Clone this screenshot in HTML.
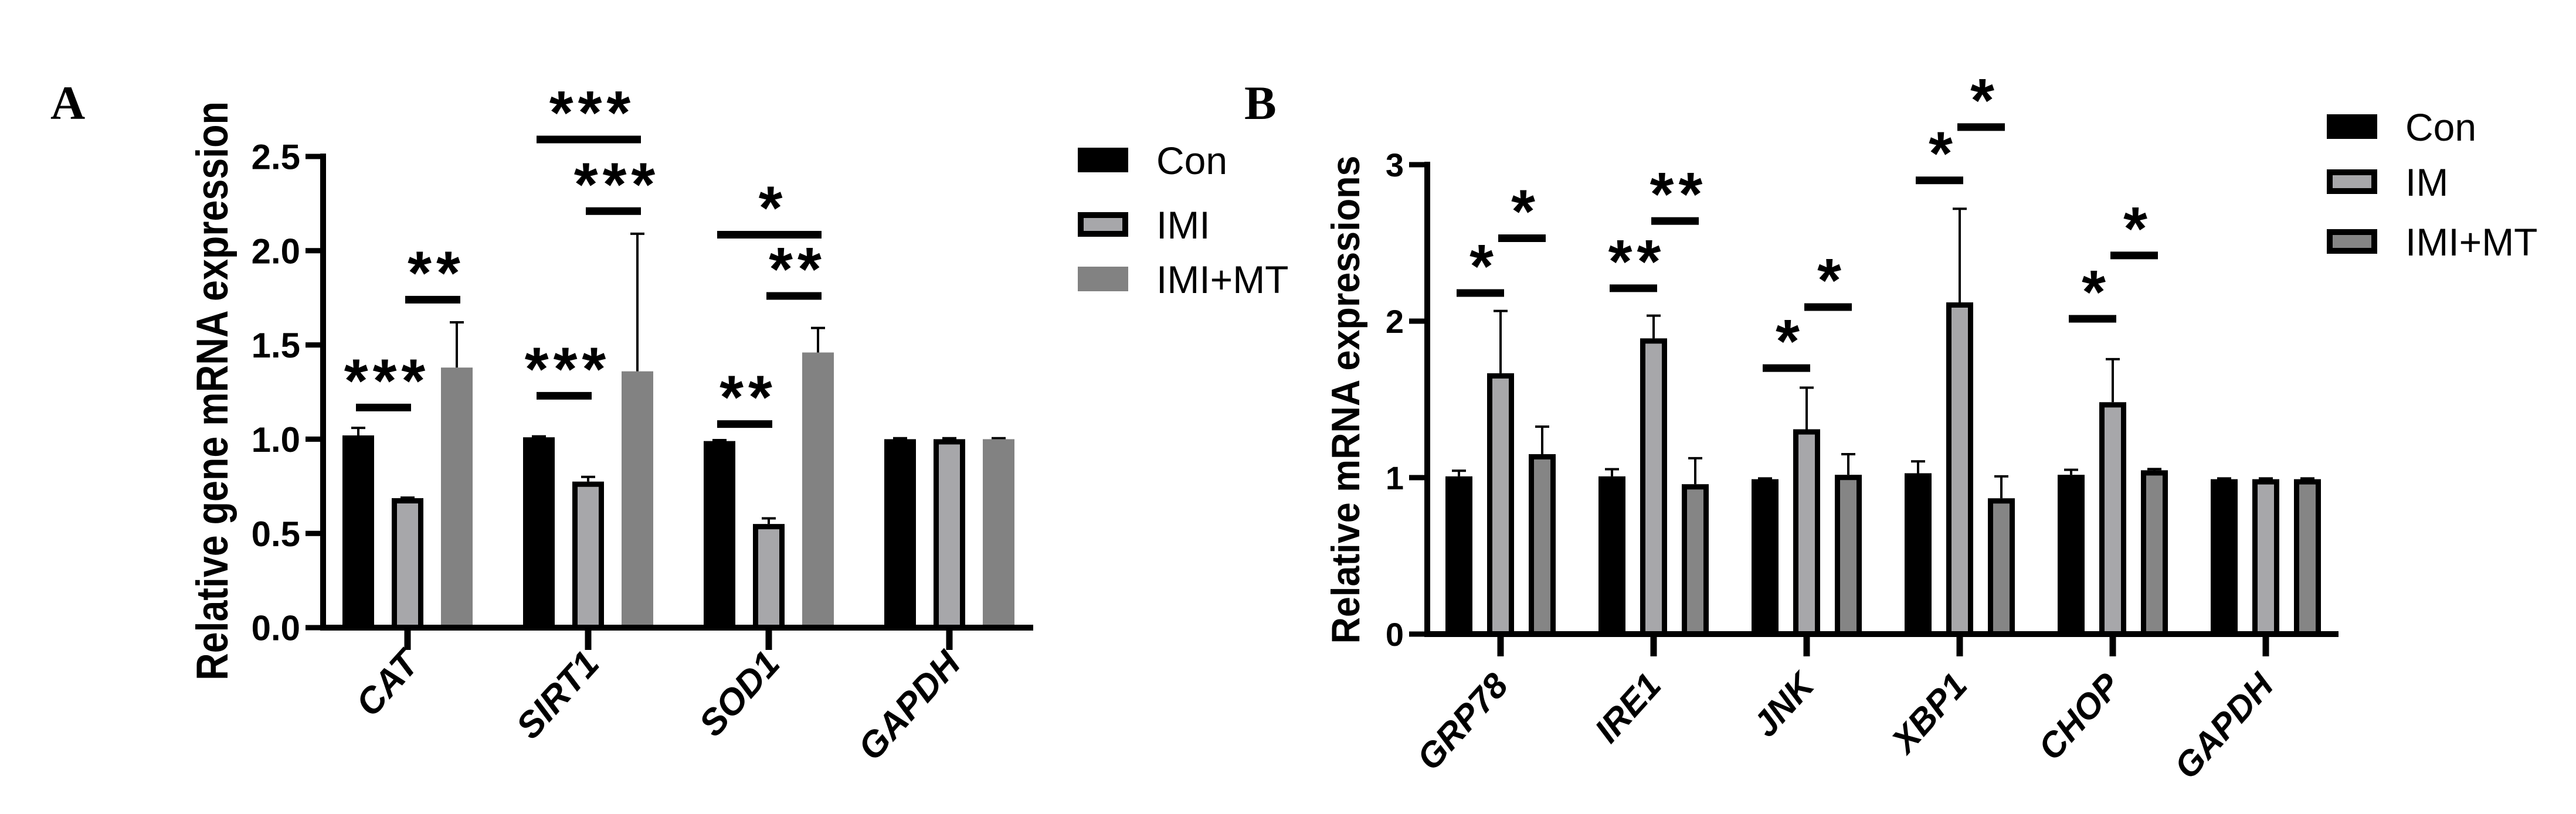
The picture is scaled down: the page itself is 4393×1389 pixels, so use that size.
<!DOCTYPE html>
<html><head><meta charset="utf-8"><style>
html,body{margin:0;padding:0;background:#fff;}
svg{display:block;font-family:"Liberation Sans",Arial,sans-serif;}
</style></head><body>
<svg id="fig" width="4393" height="1389" viewBox="0 0 4393 1389" xmlns="http://www.w3.org/2000/svg">
<rect x="0" y="0" width="4393" height="1389" fill="#fff"/>
<g id="pa"></g>
<g id="pb"></g>
</svg>
<script>
// ---------- Panel A data ----------
const catsA = ["CAT","SIRT1","SOD1","GAPDH"];
const seriesNamesA = ["Con","IMI","IMI+MT"];
const conA = [1.02, 1.01, 0.99, 1.0];
const imiA = [0.687, 0.775, 0.55, 1.0];
const mtA = [1.38, 1.36, 1.46, 1.0];
const conErrA = [1.06, 1.015, 0.995, 1.005];
const imiErrA = [0.69, 0.80, 0.58, 1.005];
const mtErrA = [1.62, 2.09, 1.59, 1.005];
const ticksA = [0, 0.5, 1.0, 1.5, 2.0, 2.5];
const tickLabelsA = ["0.0","0.5","1.0","1.5","2.0","2.5"];
// significance: [group, fromSeries, toSeries, yValue, label]
const sigA = [
 [0,0,1,1.168,"***"],[0,1,2,1.74,"**"],
 [1,0,1,1.23,"***"],[1,1,2,2.21,"***"],[1,0,2,2.59,"***"],
 [2,0,1,1.08,"**"],[2,1,2,1.76,"**"],[2,0,2,2.085,"*"]
];
// ---------- Panel B data ----------
const catsB = ["GRP78","IRE1","JNK","XBP1","CHOP","GAPDH"];
const seriesNamesB = ["Con","IM","IMI+MT"];
const conB = [1.008, 1.008, 0.99, 1.028, 1.018, 0.99];
const imB = [1.667, 1.89, 1.309, 2.12, 1.482, 0.99];
const mtB = [1.15, 0.958, 1.018, 0.868, 1.047, 0.99];
const conErrB = [1.044, 1.054, 0.995, 1.104, 1.05, 0.995];
const imErrB = [2.065, 2.035, 1.575, 2.718, 1.757, 0.995];
const mtErrB = [1.326, 1.124, 1.15, 1.008, 1.055, 0.995];
const ticksB = [0, 1, 2, 3];
const tickLabelsB = ["0","1","2","3"];
const sigB = [
 [0,0,1,2.18,"*"],[0,1,2,2.53,"*"],
 [1,0,1,2.21,"**"],[1,1,2,2.64,"**"],
 [2,0,1,1.70,"*"],[2,1,2,2.09,"*"],
 [3,0,1,2.90,"*"],[3,1,2,3.24,"*"],
 [4,0,1,2.015,"*"],[4,1,2,2.42,"*"]
];

const NS="http://www.w3.org/2000/svg";
function mk(parent, tag, attrs, text){
  const e=document.createElementNS(NS,tag);
  for(const k in attrs) e.setAttribute(k, attrs[k]);
  if(text!==undefined) e.textContent=text;
  parent.appendChild(e); return e;
}

function drawPanel(g, cfg){
  const y = v => cfg.y0 - (v - cfg.vmin)/(cfg.vmax-cfg.vmin)*(cfg.y0-cfg.yTop);
  const gx = i => cfg.g0 + i*cfg.gStep;
  const bx = (i,s) => gx(i) + (s-1)*cfg.bStep;
  const pl = mk(g,'text',{x:cfg.labelX,y:203,'font-family':'"Liberation Serif",serif','font-weight':'bold','font-size':82},cfg.label);
  
  
  const yt = mk(g,'text',{x:0,y:0,transform:`translate(${cfg.titleX},${cfg.titleY}) rotate(-90)`,'text-anchor':'middle','font-weight':'bold','font-size':cfg.titleFont,textLength:cfg.titleLen,lengthAdjust:'spacingAndGlyphs'},cfg.title);
  
  
  const fills=['#000','#a7a7aa',cfg.mtFill];
  cfg.series.forEach((vals,s)=>{
    vals.forEach((v,i)=>{
      const cx=bx(i,s), w=cfg.bw, top=y(v);
      const et=y(cfg.errs[s][i]);
      const el=mk(g,'line',{x1:cx,x2:cx,y1:top,y2:et,stroke:'#000','stroke-width':4});
      
      
      const ec=mk(g,'line',{x1:cx-12,x2:cx+12,y1:et,y2:et,stroke:'#000','stroke-width':4});
      
      
      let r;
      if(cfg.outlined[s]){
        const sw=cfg.sw;
        r=mk(g,'rect',{x:cx-w/2+sw/2,y:top+sw/2,width:w-sw,height:Math.max(0,cfg.y0-top-sw/2),fill:fills[s],stroke:'#000','stroke-width':sw});
      } else {
        r=mk(g,'rect',{x:cx-w/2,y:top,width:w,height:cfg.y0-top,fill:fills[s]});
      }
      
      
    });
  });
  const ya=mk(g,'line',{x1:cfg.ax,x2:cfg.ax,y1:cfg.yTop-5,y2:cfg.y0+5,stroke:'#000','stroke-width':10});
  
  
  const xa=mk(g,'line',{x1:cfg.ax-5,x2:cfg.xEnd,y1:cfg.y0,y2:cfg.y0,stroke:'#000','stroke-width':10});
  
  
  cfg.ticks.forEach((t,k)=>{
    const ty=y(t);
    const tl=mk(g,'line',{x1:cfg.tickX,x2:cfg.ax,y1:ty,y2:ty,stroke:'#000','stroke-width':9});
    
    
    const tx=mk(g,'text',{x:cfg.tickLabelX,y:ty+cfg.tickFont*0.36,'text-anchor':'end','font-weight':'bold','font-size':cfg.tickFont},cfg.tickLabels[k]);
    
    
  });
  cfg.cats.forEach((c,i)=>{
    const x=gx(i);
    const tk=mk(g,'line',{x1:x,x2:x,y1:cfg.y0,y2:cfg.y0+38,stroke:'#000','stroke-width':11});
    
    
    const lb=mk(g,'text',{x:0,y:0,transform:`translate(${x+cfg.lblDx},${cfg.lblY}) rotate(-48)`,'text-anchor':'end','font-weight':'bold','font-style':'italic','font-size':cfg.lblFont},c);
    
    
  });
  cfg.sig.forEach(sg=>{
    const [i,a,b,v,lab]=sg;
    const x1=bx(i,a)-4, x2=bx(i,b)+6, ly=y(v);
    const sl=mk(g,'line',{x1:x1,x2:x2,y1:ly,y2:ly,stroke:'#000','stroke-width':13});
    
    
    const st=mk(g,'text',{x:(x1+x2)/2+6,y:ly-10,'text-anchor':'middle','font-weight':'bold','font-size':105,'letter-spacing':8},lab);
    
    
  });
  cfg.names.forEach((n,s)=>{
    const ly=cfg.legY[s];
    let r;
    if(cfg.legOutlined[s]){
      r=mk(g,'rect',{x:cfg.legX+5,y:ly-21+5,width:76,height:32,fill:fills[s],stroke:'#000','stroke-width':10});
    } else {
      r=mk(g,'rect',{x:cfg.legX,y:ly-21,width:86,height:42,fill:fills[s]});
    }
    
    
    const t=mk(g,'text',{x:cfg.legX+134,y:ly+24,'font-size':66},n);
    
    
  });
}

drawPanel(document.getElementById('pa'),{
  label:'A',labelX:86,title:'Relative gene mRNA expression',titleX:388,titleY:667,titleFont:76,titleLen:988,
  vmin:0,vmax:2.5,y0:1071,yTop:267,ax:551,xEnd:1762,tickX:521,tickLabelX:512,tickFont:60,
  ticks:ticksA,tickLabels:tickLabelsA,cats:catsA,names:seriesNamesA,
  series:[conA,imiA,mtA],errs:[conErrA,imiErrA,mtErrA],
  g0:695,gStep:308,bStep:84,bw:54,sw:9,outlined:[false,true,false],mtFill:'#828282',
  lblDx:22,lblY:1135,lblFont:62,sig:sigA,
  legX:1838,legY:[273,383,476],legOutlined:[false,true,false]
});
drawPanel(document.getElementById('pb'),{
  label:'B',labelX:2122,title:'Relative  mRNA expressions',titleX:2318,titleY:682,titleFont:68,titleLen:833,
  vmin:0,vmax:3,y0:1082,yTop:281,ax:2434,xEnd:3988,tickX:2403,tickLabelX:2394,tickFont:56,
  ticks:ticksB,tickLabels:tickLabelsB,cats:catsB,names:seriesNamesB,
  series:[conB,imB,mtB],errs:[conErrB,imErrB,mtErrB],
  g0:2559,gStep:261,bStep:71,bw:46,sw:9,outlined:[false,true,true],mtFill:'#858585',
  lblDx:16,lblY:1172,lblFont:60,sig:sigB,
  legX:3968,legY:[216,310,412],legOutlined:[false,true,true]
});
</script>
</body></html>
